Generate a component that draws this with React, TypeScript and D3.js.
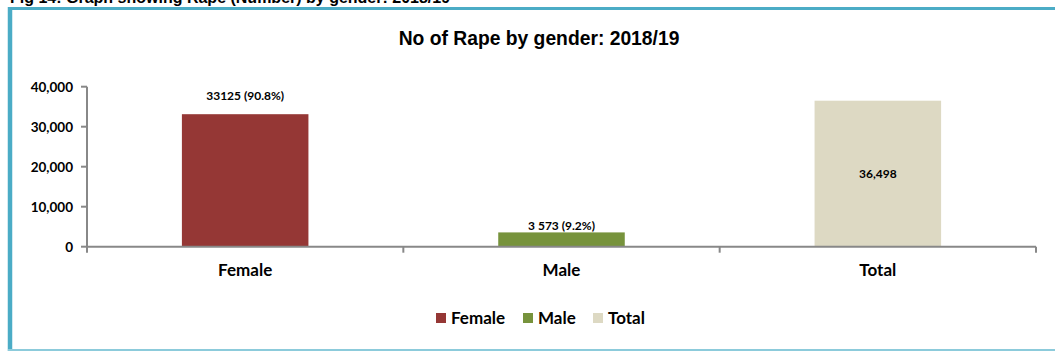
import React from "react";
import * as d3 from "d3";

const categories = ["Female", "Male", "Total"];
const values = [33125, 3573, 36498];
const valueLabels = ["33125 (90.8%)", "3 573 (9.2%)", "36,498"];
const colors = ["#953735", "#77933C", "#DDD9C3"];
const yTicks = [0, 10000, 20000, 30000, 40000];
const title = "No of Rape by gender: 2018/19";
const caption = "Fig 14: Graph showing Rape (Number) by gender: 2018/19";

const W = 1055;
const H = 352;
const left = 87;
const right = 1036;
const y0 = 246.7;
const yTop = 86.7;

export default function App() {
  const x = d3
    .scaleBand<string>()
    .domain(categories)
    .range([left, right])
    .paddingInner(0.6)
    .paddingOuter(0.3);
  const y = d3.scaleLinear().domain([0, 40000]).range([y0, yTop]);
  const step = x.step();
  const fmt = d3.format(",");
  const calib = "Lato, 'Open Sans', sans-serif";
  const axisColor = "#888888";
  const boundaries = [left, left + step, left + 2 * step, right];

  return (
    <svg
      width={W}
      height={H}
      style={{ position: "absolute", left: 0, top: 0, background: "#fff" }}
    >
      <text
        x={10}
        y={3}
        fontFamily="'Liberation Sans', Arial, sans-serif"
        fontWeight="bold"
        fontSize={16}
        fill="#000"
      >
        {caption}
      </text>
      {/* frame */}
      <line x1={8} x2={W} y1={8.5} y2={8.5} stroke="#4BACC6" strokeWidth={3} />
      <line x1={10} x2={10} y1={7} y2={351} stroke="#4BACC6" strokeWidth={4.5} />
      <line x1={8} x2={W} y1={350} y2={350} stroke="#8CCBDB" strokeWidth={2} />

      <text
        x={539}
        y={45}
        textAnchor="middle"
        fontFamily="'Liberation Sans', Arial, sans-serif"
        fontWeight="bold"
        fontSize={19.3}
        fill="#000"
      >
        {title}
      </text>

      {/* bars */}
      {categories.map((c, i) => (
        <rect
          key={c}
          x={x(c)}
          y={y(values[i])}
          width={x.bandwidth()}
          height={y0 - y(values[i])}
          fill={colors[i]}
        />
      ))}

      {/* y axis */}
      <line x1={left} x2={left} y1={yTop} y2={y0} stroke={axisColor} strokeWidth={2} />
      {yTicks.map((t) => (
        <g key={t}>
          <line x1={left - 6} x2={left} y1={y(t)} y2={y(t)} stroke={axisColor} strokeWidth={2} />
          <text
            x={73}
            y={y(t) + 5}
            textAnchor="end"
            fontFamily={calib}
            fontWeight="bold"
            fontSize={13.5}
            fill="#000"
          >
            {fmt(t)}
          </text>
        </g>
      ))}

      {/* x axis */}
      <line x1={left} x2={right} y1={y0} y2={y0} stroke={axisColor} strokeWidth={2} />
      {boundaries.map((b, i) => (
        <line key={i} x1={b} x2={b} y1={y0} y2={y0 + 6} stroke={axisColor} strokeWidth={2} />
      ))}
      {categories.map((c) => (
        <text
          key={c}
          x={(x(c) as number) + x.bandwidth() / 2}
          y={276}
          textAnchor="middle"
          fontFamily={calib}
          fontWeight="bold"
          fontSize={17}
          fill="#000"
        >
          {c}
        </text>
      ))}

      {/* value labels */}
      {categories.map((c, i) => {
        const cx = (x(c) as number) + x.bandwidth() / 2;
        const top = y(values[i]);
        const ly =
          i === 0 ? top - 14 : i === 1 ? top - 2 : (top + y0) / 2 + 4;
        return (
          <text
            key={c}
            x={cx}
            y={ly}
            textAnchor="middle"
            fontFamily={calib}
            fontWeight="bold"
            fontSize={12}
            fill="#000"
          >
            {valueLabels[i]}
          </text>
        );
      })}

      {/* legend */}
      {categories.map((c, i) => {
        const lx = [436, 523, 593][i];
        return (
          <g key={c}>
            <rect x={lx} y={313} width={10} height={10} fill={colors[i]} />
            <text
              x={lx + 15}
              y={324}
              fontFamily={calib}
              fontWeight="bold"
              fontSize={17}
              fill="#000"
            >
              {c}
            </text>
          </g>
        );
      })}
    </svg>
  );
}
